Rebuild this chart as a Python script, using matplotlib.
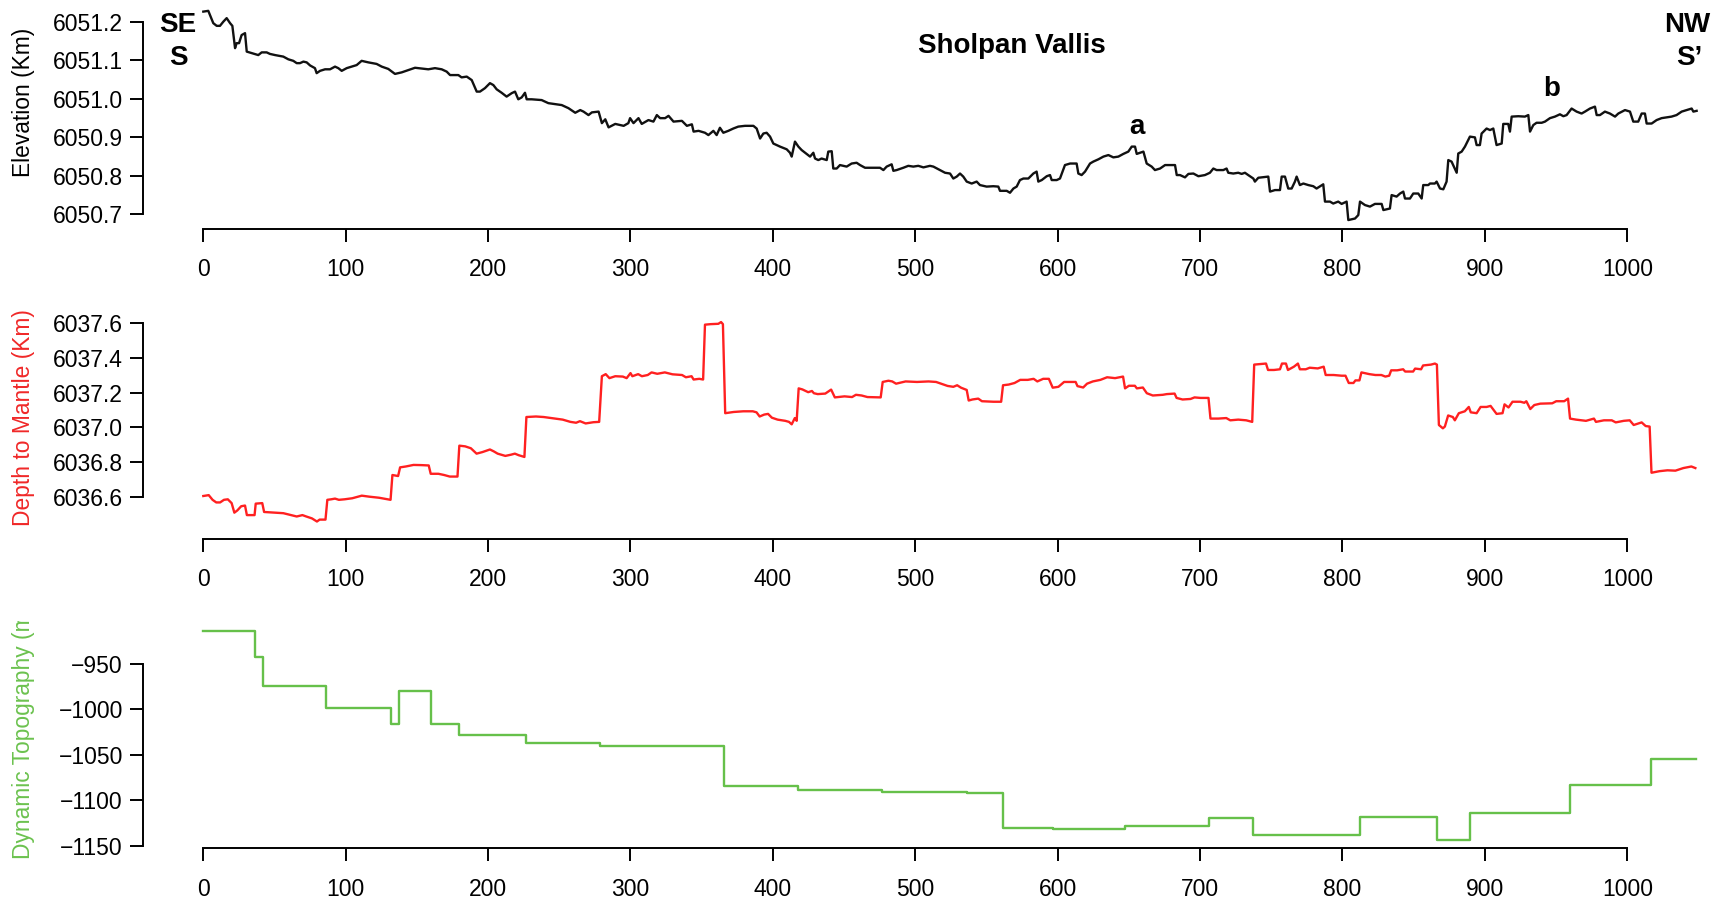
import matplotlib
matplotlib.use("Agg")
import matplotlib.pyplot as plt
from matplotlib.ticker import FuncFormatter
from matplotlib.transforms import Bbox, TransformedBbox

plt.rcParams['font.family'] = ['Liberation Sans', 'DejaVu Sans']

# ---------------- data ----------------
elev_dist = [0, 3.5, 4.7, 7.0, 9.4, 11.7, 14.1, 16.4, 18.8, 20.4, 22.3, 23.4, 25.1, 26.9, 29.3, 30.5,
    34.0, 38.6, 41.0, 44.5, 46.8, 50.4, 56.2, 59.7, 63.2, 65.6, 67.9, 70.3, 72.6, 75.0, 78.4, 79.6,
    82.0, 85.5, 89.0, 92.5, 94.8, 97.2, 100.7, 104.2, 107.7, 111.2, 115.9, 121.7, 125.3, 129.9, 134.6,
    139.3, 144.0, 148.7, 153.4, 158.0, 162.7, 167.4, 170.9, 173.3, 179.1, 181.4, 185.0, 188.5, 192.0,
    194.3, 197.8, 201.3, 203.7, 206.0, 209.5, 213.0, 216.6, 218.9, 221.2, 223.6, 225.9, 227.1, 230.6,
    237.6, 242.3, 251.7, 256.4, 261.2, 264.7, 267.0, 270.5, 272.9, 277.6, 279.9, 282.3, 284.6, 289.3,
    295.2, 298.5, 299.7, 302.1, 305.6, 307.9, 312.6, 316.1, 318.5, 320.8, 324.3, 326.7, 330.2, 336.1,
    339.6, 343.1, 344.3, 347.8,
    352.3, 354.7, 358.2, 360.5, 362.8, 365.2, 368.7, 372.2, 375.7, 380.4, 386.3, 388.6, 391.0, 393.3,
    395.6, 398.0, 400.3, 405.0, 409.7, 412.0, 413.2, 415.5, 417.9, 420.2, 423.7, 426.1, 428.4, 429.6,
    431.9, 434.2, 437.8, 438.9, 441.3, 442.4, 444.8, 447.1, 451.8, 455.3, 458.8, 461.2, 464.7, 470.5,
    475.2, 477.6, 479.9, 483.4, 484.6, 486.9, 491.6, 495.1, 498.6, 502.1, 505.7, 510.3, 512.7, 517.4,
    520.9, 524.4, 526.7, 529.1, 531.4, 533.7, 536.1, 539.6, 543.1, 545.4, 550.1, 554.8, 558.3, 559.5,
    564.2, 566.5, 568.9, 571.2, 573.5, 575.9, 579.4, 582.9, 585.2, 586.4, 588.8, 592.3, 594.6, 595.8,
    599.3, 601.6, 605.1, 608.7, 613.3, 614.5, 616.8, 619.2, 622.7, 625.0, 628.6, 632.1, 635.6, 639.1,
    642.6, 646.1, 649.6, 652.0, 654.3, 655.5, 657.8, 660.2, 662.5, 666.0, 668.3, 671.9, 675.4, 678.9,
    682.4, 683.6, 685.9, 689.4, 691.8, 695.3, 698.8,
    703.4, 706.9, 709.3, 711.6, 716.3, 718.6, 719.8, 723.3, 726.8, 729.2, 731.5, 733.8, 737.4, 738.5,
    740.9, 747.9, 749.1, 752.6, 756.1, 757.3, 759.6, 761.9, 764.3, 766.6, 767.8, 770.1, 772.5, 776.0,
    779.5, 781.8, 786.5, 787.7, 791.2, 793.5, 797.0, 799.4, 802.9, 804.1, 808.8, 811.1, 812.3, 815.8,
    819.3, 822.8, 827.5, 828.7, 833.3, 834.5, 838.0, 840.4, 842.7, 843.9, 847.4, 849.7, 853.2, 855.6,
    856.7, 860.3, 861.4, 864.9, 866.1, 868.5, 870.8, 873.1, 874.3, 876.6, 880.2, 881.3, 883.7, 886.0,
    889.5, 893.0, 894.2, 896.5, 897.7, 901.2, 903.6, 905.9, 908.2, 911.8, 912.9, 916.4, 917.6, 918.8,
    923.5, 928.1, 930.5, 931.7, 934.0, 936.3, 939.9, 942.2, 945.7, 949.2, 952.7, 955.1, 957.4, 960.9,
    964.4, 967.9, 970.3, 973.8, 977.3, 978.5, 980.8, 984.3, 987.8, 991.4, 993.7, 998.4, 1001.9, 1004.2,
    1007.7, 1010.1, 1012.4, 1013.6, 1017.1, 1020.6, 1024.1, 1027.6, 1031.1, 1034.6, 1038.2, 1041.7,
    1045.2, 1046.4, 1048.7]
elevation_km = [6051.227, 6051.229, 6051.218, 6051.197, 6051.190, 6051.190, 6051.201, 6051.210, 6051.197,
    6051.190, 6051.132, 6051.145, 6051.145, 6051.166, 6051.171, 6051.123, 6051.119, 6051.114, 6051.121,
    6051.121, 6051.117, 6051.114, 6051.110, 6051.103, 6051.099, 6051.093, 6051.093, 6051.097, 6051.095,
    6051.087, 6051.080, 6051.067, 6051.073, 6051.077, 6051.077, 6051.084, 6051.080, 6051.073, 6051.080,
    6051.084, 6051.088, 6051.099, 6051.095, 6051.091, 6051.084, 6051.078, 6051.065, 6051.069, 6051.075,
    6051.081, 6051.079, 6051.077, 6051.080, 6051.077, 6051.071, 6051.062, 6051.062, 6051.056, 6051.058,
    6051.049, 6051.019, 6051.019, 6051.028, 6051.041, 6051.036, 6051.025, 6051.016, 6051.006, 6051.015,
    6051.019, 6050.999, 6051.004, 6051.016, 6050.999, 6050.999, 6050.997, 6050.989, 6050.984, 6050.976,
    6050.964, 6050.971, 6050.967, 6050.958, 6050.965, 6050.967, 6050.937, 6050.947, 6050.926, 6050.935,
    6050.930, 6050.937, 6050.950, 6050.937, 6050.950, 6050.935, 6050.945, 6050.941, 6050.958, 6050.950,
    6050.950, 6050.956, 6050.941, 6050.943, 6050.930, 6050.934, 6050.915, 6050.917,
    6050.912, 6050.906, 6050.917, 6050.906, 6050.925, 6050.912, 6050.917, 6050.923, 6050.928, 6050.930,
    6050.930, 6050.923, 6050.897, 6050.910, 6050.912, 6050.902, 6050.884, 6050.876, 6050.869, 6050.860,
    6050.850, 6050.889, 6050.876, 6050.867, 6050.857, 6050.850, 6050.860, 6050.845, 6050.841, 6050.845,
    6050.841, 6050.863, 6050.864, 6050.819, 6050.819, 6050.828, 6050.824, 6050.832, 6050.834, 6050.828,
    6050.821, 6050.821, 6050.821, 6050.815, 6050.824, 6050.830, 6050.813, 6050.815, 6050.821, 6050.826,
    6050.824, 6050.826, 6050.822, 6050.826, 6050.824, 6050.815, 6050.808, 6050.806, 6050.793, 6050.798,
    6050.806, 6050.798, 6050.785, 6050.780, 6050.785, 6050.776, 6050.772, 6050.773, 6050.772, 6050.761,
    6050.761, 6050.756, 6050.767, 6050.772, 6050.789, 6050.793, 6050.793, 6050.806, 6050.811, 6050.785,
    6050.789, 6050.799, 6050.802, 6050.789, 6050.789, 6050.793, 6050.828, 6050.832, 6050.832, 6050.806,
    6050.802, 6050.811, 6050.832, 6050.837, 6050.843, 6050.850, 6050.854, 6050.848, 6050.850, 6050.857,
    6050.863, 6050.876, 6050.876, 6050.857, 6050.860, 6050.863, 6050.832, 6050.824, 6050.815, 6050.819,
    6050.828, 6050.828, 6050.828, 6050.802, 6050.802, 6050.796, 6050.805, 6050.806, 6050.799,
    6050.802, 6050.808, 6050.819, 6050.815, 6050.815, 6050.819, 6050.808, 6050.806, 6050.808, 6050.805,
    6050.808, 6050.802, 6050.793, 6050.785, 6050.795, 6050.798, 6050.759, 6050.763, 6050.763, 6050.798,
    6050.798, 6050.767, 6050.767, 6050.785, 6050.798, 6050.776, 6050.780, 6050.776, 6050.773, 6050.767,
    6050.778, 6050.733, 6050.733, 6050.728, 6050.733, 6050.727, 6050.733, 6050.685, 6050.689, 6050.698,
    6050.733, 6050.724, 6050.720, 6050.727, 6050.727, 6050.711, 6050.715, 6050.750, 6050.746, 6050.754,
    6050.759, 6050.741, 6050.741, 6050.754, 6050.754, 6050.741, 6050.776, 6050.776, 6050.780, 6050.780,
    6050.785, 6050.767, 6050.765, 6050.785, 6050.841, 6050.837, 6050.808, 6050.858, 6050.863, 6050.876,
    6050.902, 6050.900, 6050.880, 6050.880, 6050.910, 6050.923, 6050.919, 6050.923, 6050.880, 6050.884,
    6050.935, 6050.935, 6050.915, 6050.954, 6050.955, 6050.954, 6050.958, 6050.915, 6050.932, 6050.938,
    6050.938, 6050.941, 6050.950, 6050.954, 6050.960, 6050.955, 6050.958, 6050.975, 6050.967, 6050.962,
    6050.967, 6050.975, 6050.980, 6050.958, 6050.958, 6050.967, 6050.962, 6050.954, 6050.962, 6050.971,
    6050.967, 6050.941, 6050.941, 6050.962, 6050.962, 6050.936, 6050.936, 6050.945, 6050.950, 6050.952,
    6050.954, 6050.958, 6050.967, 6050.971, 6050.975, 6050.967, 6050.969]

mantle_dist = [0, 3.8, 6.5, 9.1, 11.8, 14.5, 17.2, 19.9, 21.8, 23.9, 26.6, 29.3, 30.6, 36.0, 36.8, 41.4,
    42.7, 50.8, 56.2, 61.6, 65.6, 69.6, 72.3, 76.3, 79.8, 81.7, 85.8, 87.1, 89.8, 92.5, 95.2, 99.2,
    104.6, 111.3, 116.7, 123.4, 131.5, 132.8, 136.8, 138.2, 142.2, 147.6, 153.0, 158.3, 159.7, 165.1,
    169.1, 173.1, 178.5, 179.8, 183.9, 187.9, 191.9, 196.0, 201.3, 204.0, 206.7, 212.1, 216.1, 218.8,
    221.5, 225.5, 226.9, 233.6, 239.0, 247.0, 252.4, 257.8, 261.8, 264.5, 268.5, 273.9, 278.0,
    279.9, 282.6, 285.2, 289.3, 294.6, 297.3, 300.0, 301.3, 305.4, 308.0, 312.1, 314.8, 318.8, 324.1,
    329.5, 336.2, 338.9, 342.9, 344.3, 348.3, 351.0, 352.3, 356.3, 361.7, 363.6, 364.9, 366.5, 372.4,
    379.2, 385.9, 388.5, 390.7, 393.9, 396.6, 399.3, 403.3, 408.7, 411.3, 413.2, 415.4, 416.7, 418.1,
    420.7, 424.8, 427.4, 428.8, 431.5, 436.8, 440.9, 443.5, 450.3, 455.6, 458.3, 462.3, 466.4, 475.7,
    477.1, 481.1, 483.8, 486.5, 493.2, 501.2, 509.3, 514.6, 522.7, 526.7, 529.4, 532.1, 536.1, 537.5,
    540.1, 544.2, 546.8, 554.9, 560.3, 561.6, 565.6, 569.7, 573.7, 579.0, 583.1, 585.7, 589.8, 593.8,
    596.5, 600.5, 604.5, 612.6, 613.9, 617.9, 620.6, 624.7, 630.0,
    634.7, 640.3, 645.9, 647.3, 650.0, 654.2, 655.6, 659.8, 662.6, 666.8, 673.8, 676.6, 682.1, 683.5,
    687.7, 693.3, 696.1, 700.3, 705.9, 707.3, 712.8, 718.4, 721.2, 726.8, 732.4, 736.6, 738.0, 746.3,
    747.7, 751.9, 756.1, 757.5, 760.3, 761.7, 765.9, 768.7, 770.1, 774.2, 777.0, 782.6, 786.8, 788.2,
    793.8, 799.4, 802.1, 804.4, 807.7, 809.1, 811.9, 813.3, 818.9, 823.1, 827.3, 830.1, 832.8, 834.2,
    838.4, 842.6, 844.0, 849.6, 851.0, 855.2, 856.6, 862.2, 864.9, 866.3, 867.7, 870.5, 871.9, 874.2,
    877.5, 878.9, 881.7, 885.9, 888.7, 890.1, 894.2, 897.0, 901.2, 904.0, 908.2, 912.4, 913.8, 916.6,
    919.4, 925.0, 927.7, 929.1, 931.9, 934.7, 938.9, 947.3, 950.1, 955.7, 958.4, 959.8, 964.0, 971.0,
    976.6, 978.0, 983.6, 989.1, 991.9, 997.5, 1001.7, 1004.5, 1010.1, 1012.9, 1015.7, 1017.0, 1022.6,
    1028.2, 1033.8, 1039.4, 1045.0, 1047.8]
mantle_depth_km = [6036.604, 6036.609, 6036.582, 6036.567, 6036.567, 6036.582, 6036.585, 6036.563,
    6036.508, 6036.521, 6036.545, 6036.549, 6036.494, 6036.494, 6036.560, 6036.563, 6036.512, 6036.508,
    6036.505, 6036.494, 6036.486, 6036.494, 6036.486, 6036.475, 6036.457, 6036.468, 6036.468, 6036.582,
    6036.585, 6036.589, 6036.582, 6036.585, 6036.591, 6036.606, 6036.600, 6036.594, 6036.582, 6036.725,
    6036.719, 6036.769, 6036.774, 6036.783, 6036.782, 6036.780, 6036.732, 6036.732, 6036.725, 6036.716,
    6036.716, 6036.894, 6036.890, 6036.879, 6036.848, 6036.857, 6036.872, 6036.861, 6036.848, 6036.835,
    6036.842, 6036.848, 6036.839, 6036.829, 6037.059, 6037.062, 6037.059, 6037.050, 6037.044, 6037.031,
    6037.026, 6037.035, 6037.022, 6037.029, 6037.031,
    6037.294, 6037.306, 6037.283, 6037.294, 6037.292, 6037.283, 6037.312, 6037.294, 6037.306, 6037.294,
    6037.301, 6037.316, 6037.308, 6037.316, 6037.305, 6037.301, 6037.288, 6037.294, 6037.275, 6037.279,
    6037.275, 6037.591, 6037.594, 6037.596, 6037.606, 6037.594, 6037.081, 6037.088, 6037.092, 6037.092,
    6037.086, 6037.062, 6037.073, 6037.077, 6037.055, 6037.044, 6037.037, 6037.031, 6037.017, 6037.053,
    6037.037, 6037.224, 6037.218, 6037.202, 6037.209, 6037.196, 6037.191, 6037.194, 6037.217, 6037.172,
    6037.178, 6037.174, 6037.187, 6037.183, 6037.174, 6037.172, 6037.261, 6037.268, 6037.264, 6037.251,
    6037.264, 6037.261, 6037.264, 6037.261, 6037.238, 6037.233, 6037.242, 6037.228, 6037.215, 6037.154,
    6037.160, 6037.165, 6037.150, 6037.147, 6037.147, 6037.242, 6037.246, 6037.255, 6037.273, 6037.273,
    6037.279, 6037.264, 6037.279, 6037.279, 6037.228, 6037.233, 6037.261, 6037.261, 6037.237, 6037.229,
    6037.251, 6037.264, 6037.273,
    6037.288, 6037.283, 6037.292, 6037.224, 6037.239, 6037.239, 6037.224, 6037.229, 6037.196, 6037.183,
    6037.187, 6037.191, 6037.194, 6037.169, 6037.160, 6037.163, 6037.172, 6037.169, 6037.169, 6037.050,
    6037.050, 6037.053, 6037.040, 6037.044, 6037.040, 6037.031, 6037.361, 6037.367, 6037.330, 6037.330,
    6037.334, 6037.367, 6037.367, 6037.330, 6037.349, 6037.367, 6037.334, 6037.334, 6037.343, 6037.339,
    6037.349, 6037.301, 6037.301, 6037.297, 6037.297, 6037.255, 6037.255, 6037.270, 6037.270, 6037.316,
    6037.306, 6037.301, 6037.301, 6037.292, 6037.297, 6037.328, 6037.328, 6037.334, 6037.321, 6037.321,
    6037.338, 6037.334, 6037.356, 6037.361, 6037.367, 6037.361, 6037.013, 6036.994, 6037.004, 6037.068,
    6037.059, 6037.040, 6037.081, 6037.092, 6037.117, 6037.086, 6037.081, 6037.117, 6037.117, 6037.123,
    6037.077, 6037.081, 6037.132, 6037.114, 6037.147, 6037.147, 6037.141, 6037.150, 6037.105, 6037.128,
    6037.136, 6037.138, 6037.150, 6037.150, 6037.165, 6037.050, 6037.044, 6037.037, 6037.050, 6037.031,
    6037.040, 6037.040, 6037.028, 6037.037, 6037.040, 6037.013, 6037.028, 6037.007, 6037.004, 6036.738,
    6036.747, 6036.752, 6036.750, 6036.765, 6036.774, 6036.765]

dyn_dist = [0, 36.0, 42.2, 86.3, 132.0, 137.6, 159.7, 179.3, 226.3, 278.5, 351.5, 365.7, 417.5,
    476.5, 536.6, 561.6, 596.5, 647.3, 706.4, 737.4, 812.5, 866.6, 889.5, 959.6, 1016.8, 1048.6]
dyn_topo_m = [-914.2, -942.0, -974.5, -998.5, -1016.4, -980.3, -1016.4, -1028.8, -1036.9, -1040.1,
    -1040.9, -1085.0, -1088.7, -1090.9, -1092.0, -1131.0, -1131.8, -1128.1, -1119.7, -1138.7,
    -1118.2, -1143.4, -1114.2, -1083.9, -1054.7, -1054.7]

x_ticks = [0, 100, 200, 300, 400, 500, 600, 700, 800, 900, 1000]
elev_ticks = [6050.7, 6050.8, 6050.9, 6051.0, 6051.1, 6051.2]
mantle_ticks = [6036.6, 6036.8, 6037.0, 6037.2, 6037.4, 6037.6]
dyn_ticks = [-1150, -1100, -1050, -1000, -950]

# ---------------- layout ----------------
W, H = 1723, 905
fig = plt.figure(figsize=(W / 100, H / 100), dpi=100)

X_LEFT, X_RIGHT = -42.35, 1061.6   # y spine at pixel 143, right edge ~1715


def make_axes(top_px, bottom_px):
    return fig.add_axes([143 / W, 1 - bottom_px / H, (1715 - 143) / W, (bottom_px - top_px) / H])


def fmt_factory(fmt):
    return FuncFormatter(lambda v, pos: (fmt % v).replace('-', '\u2212'))


def style(ax, yticks, fmt):
    for s in ('top', 'right'):
        ax.spines[s].set_visible(False)
    ax.spines['left'].set_linewidth(1.4)
    ax.spines['bottom'].set_linewidth(1.4)
    ax.spines['left'].set_bounds(min(yticks), max(yticks))
    ax.spines['bottom'].set_bounds(0, 1000)
    ax.set_xticks(x_ticks)
    ax.set_yticks(yticks)
    ax.yaxis.set_major_formatter(fmt_factory(fmt))
    ax.set_xlim(X_LEFT, X_RIGHT)
    ax.tick_params(axis='both', direction='out', length=9.5, width=1.4, labelsize=16.5, colors='black')
    ax.tick_params(axis='x', pad=12)
    ax.tick_params(axis='y', pad=5)
    ax.patch.set_alpha(0)


LABEL_X = 24 / W
LABEL_FS = 16.4

# Panel 1: elevation
ax1 = make_axes(5, 228.6)
ax1.plot(elev_dist, elevation_km, color='#111111', lw=1.7)
style(ax1, elev_ticks, '%.1f')
ax1.set_ylim(6050.6628, 6051.2442)
ax1.set_ylabel('Elevation (Km)', fontsize=LABEL_FS, color='black', va='center')
ax1.yaxis.set_label_coords(LABEL_X, 1 - 102 / H, transform=fig.transFigure)

# Panel 2: depth to mantle
ax2 = make_axes(290, 538.5)
ax2.plot(mantle_dist, mantle_depth_km, color='#FF2020', lw=1.7)
style(ax2, mantle_ticks, '%.1f')
ax2.set_ylim(6036.3592, 6037.7907)
ax2.set_ylabel('Depth to Mantle (Km)', fontsize=LABEL_FS, color='#F02828', va='center')
ax2.yaxis.set_label_coords(LABEL_X, 1 - 418 / H, transform=fig.transFigure)

# Panel 3: dynamic topography
ax3 = make_axes(615, 848)
ax3.plot(dyn_dist, dyn_topo_m, color='#66C04A', lw=1.7, drawstyle='steps-post')
style(ax3, dyn_ticks, '%d')
ax3.set_ylim(-1152.7, -896.25)
ax3.set_ylabel('Dynamic Topography (m)', fontsize=LABEL_FS, color='#6CC24F', va='center')
ax3.yaxis.set_label_coords(LABEL_X, 1 - 732 / H, transform=fig.transFigure)
lab = ax3.yaxis.label
lab.set_clip_box(TransformedBbox(Bbox([[0, 0], [1, (H - 621) / H]]), fig.transFigure))
lab.set_clip_on(True)


def ftext(x, y, s, **kw):
    fig.text(x / W, 1 - y / H, s, ha='center', va='center', fontsize=20, fontweight='bold', **kw)


ftext(1012, 46, 'Sholpan Vallis')
ftext(178, 25, 'SE')
ftext(178, 58, 'S')
ftext(1687, 25, 'NW')
ftext(1689, 58, 'S\u2019')
ftext(1137, 127, 'a')
ftext(1552, 89, 'b')

fig.savefig('out.png', dpi=100)
